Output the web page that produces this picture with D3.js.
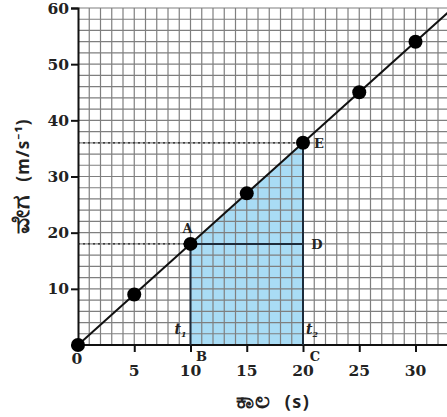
<!DOCTYPE html>
<html>
<head>
<meta charset="utf-8">
<script src="https://cdn.jsdelivr.net/npm/d3@7"></script>
<style>
  body { margin: 0; background: #fff; }
  svg { display: block; }
</style>
</head>
<body>
<script>
// velocity-time data (s, m/s)
var times = [0, 5, 10, 15, 20, 25, 30];
var speeds = [0, 9, 18, 27, 36, 45, 54];
var xTicks = [0, 5, 10, 15, 20, 25, 30];
var yTicks = [10, 20, 30, 40, 50, 60];
var shadeT = [10, 20];   // t1, t2
var xLabel = ["ಕಾಲ", "(s)"];
var yLabel = ["ವೇಗ", "(m/s⁻¹)"];

var W = 447, H = 417;
var svg = d3.select("body").append("svg")
    .attr("width", W)
    .attr("height", H);

var x = d3.scaleLinear().domain([0, 33]).range([78, 78 + 33 * 11.25]);
var y = d3.scaleLinear().domain([0, 60]).range([345, 8]);

var slope = speeds[1] / times[1];

// shaded trapezium ABCE
var tA = shadeT[0], tE = shadeT[1];
var vA = slope * tA, vE = slope * tE;
svg.append("path")
    .attr("d", d3.line()([
        [x(tA), y(0)], [x(tA), y(vA)], [x(tE), y(vE)], [x(tE), y(0)]
    ]))
    .attr("fill", "#a9dcf5");

// grid, 1 s by 2 m/s
var grid = svg.append("g").attr("stroke", "#7f7f7f").attr("stroke-width", 1.2);
grid.selectAll("line.v")
    .data(d3.range(1, 34))
    .enter().append("line")
    .attr("x1", function(d) { return x(d); })
    .attr("x2", function(d) { return x(d); })
    .attr("y1", y(0))
    .attr("y2", y(60));
grid.selectAll("line.h")
    .data(d3.range(2, 61, 2))
    .enter().append("line")
    .attr("x1", x(0))
    .attr("x2", W)
    .attr("y1", function(d) { return y(d); })
    .attr("y2", function(d) { return y(d); });

// axes
var xAxis = svg.append("g")
    .attr("transform", "translate(0," + y(0) + ")")
    .call(d3.axisBottom(x).tickValues(xTicks.slice(1)).tickSize(7).tickFormat(""));
xAxis.select(".domain").attr("d", "M" + x(0) + ",0H" + W);
var yAxis = svg.append("g")
    .attr("transform", "translate(" + x(0) + ",0)")
    .call(d3.axisLeft(y).tickValues(yTicks).tickSize(7).tickFormat(""));
svg.selectAll(".domain").attr("stroke", "#111").attr("stroke-width", 2);
svg.selectAll(".tick line").attr("stroke", "#111").attr("stroke-width", 2);

var numFont = "DejaVu Serif, serif";
svg.append("g").selectAll("text")
    .data(xTicks)
    .enter().append("text")
    .attr("x", function(d) { return x(d) + (d == 0 ? -1 : 0); })
    .attr("y", function(d) { return d == 0 ? 364 : 376; })
    .attr("text-anchor", "middle")
    .attr("font-family", numFont)
    .attr("font-weight", "bold")
    .attr("font-size", 15.5)
    .attr("fill", "#222")
    .text(function(d) { return d; });
svg.append("g").selectAll("text")
    .data(yTicks)
    .enter().append("text")
    .attr("x", x(0) - 9)
    .attr("y", function(d) { return y(d) + 5.5; })
    .attr("text-anchor", "end")
    .attr("font-family", numFont)
    .attr("font-weight", "bold")
    .attr("font-size", 15.5)
    .attr("fill", "#222")
    .text(function(d) { return d; });

// dotted guides to the y axis
svg.selectAll("line.guide")
    .data([vA, vE])
    .enter().append("line")
    .attr("x1", x(0))
    .attr("x2", function(d) { return x(d / slope); })
    .attr("y1", function(d) { return y(d); })
    .attr("y2", function(d) { return y(d); })
    .attr("stroke", "#222")
    .attr("stroke-width", 1.3)
    .attr("stroke-dasharray", "2,3");

// construction lines
var dark = "#1d2b3a";
svg.append("line").attr("x1", x(tA)).attr("x2", x(tA)).attr("y1", y(0)).attr("y2", y(vA))
    .attr("stroke", dark).attr("stroke-width", 2);
svg.append("line").attr("x1", x(tE)).attr("x2", x(tE)).attr("y1", y(0)).attr("y2", y(vE))
    .attr("stroke", dark).attr("stroke-width", 2);
svg.append("line").attr("x1", x(tA)).attr("x2", x(tE)).attr("y1", y(vA)).attr("y2", y(vA))
    .attr("stroke", dark).attr("stroke-width", 2);

// best fit line
svg.append("line")
    .attr("x1", x(0)).attr("y1", y(0))
    .attr("x2", x(33)).attr("y2", y(33 * slope))
    .attr("stroke", "#111")
    .attr("stroke-width", 2);

svg.append("g").selectAll("circle")
    .data(times)
    .enter().append("circle")
    .attr("cx", function(d) { return x(d); })
    .attr("cy", function(d, i) { return y(speeds[i]); })
    .attr("r", 7)
    .attr("fill", "#000");

// point labels
var labels = [
    {t: "A", x: x(tA) - 3, y: y(vA) - 11},
    {t: "E", x: x(tE) + 16, y: y(vE) + 5},
    {t: "D", x: x(tE) + 14, y: y(vA) + 5},
    {t: "B", x: x(tA) + 11, y: 361},
    {t: "C", x: x(tE) + 12, y: 361}
];
svg.append("g").selectAll("text")
    .data(labels)
    .enter().append("text")
    .attr("x", function(d) { return d.x; })
    .attr("y", function(d) { return d.y; })
    .attr("text-anchor", "middle")
    .attr("font-family", numFont)
    .attr("font-weight", "bold")
    .attr("font-size", 13)
    .attr("fill", "#222")
    .text(function(d) { return d.t; });

// t1, t2
[[x(tA) - 10, "1"], [x(tE) + 9, "2"]].forEach(function(p) {
    var t = svg.append("text")
        .attr("x", p[0]).attr("y", 334)
        .attr("text-anchor", "middle")
        .attr("font-family", numFont)
        .attr("font-weight", "bold")
        .attr("font-style", "italic")
        .attr("font-size", 14)
        .attr("fill", "#222");
    t.append("tspan").text("t");
    t.append("tspan").attr("font-size", 8).attr("dy", 3).text(p[1]);
});

// axis titles
var xt = svg.append("text")
    .attr("x", 273).attr("y", 408)
    .attr("text-anchor", "middle")
    .attr("font-family", "Noto Sans, DejaVu Sans, sans-serif")
    .attr("font-weight", "bold")
    .attr("fill", "#222");
xt.append("tspan").attr("font-size", 23).attr("letter-spacing", 1).text(xLabel[0]);
xt.append("tspan").attr("font-size", 18).attr("dx", 14).attr("letter-spacing", 1.5).text(xLabel[1]);

var yt = svg.append("text")
    .attr("transform", "translate(29,176) rotate(-90)")
    .attr("text-anchor", "middle")
    .attr("font-family", "Noto Sans, DejaVu Sans, sans-serif")
    .attr("font-weight", "bold")
    .attr("fill", "#222");
yt.append("tspan").attr("font-size", 25).attr("letter-spacing", 1).text(yLabel[0]);
yt.append("tspan").attr("font-size", 17).attr("dx", 12).attr("letter-spacing", 1).text(yLabel[1]);
</script>
</body>
</html>
